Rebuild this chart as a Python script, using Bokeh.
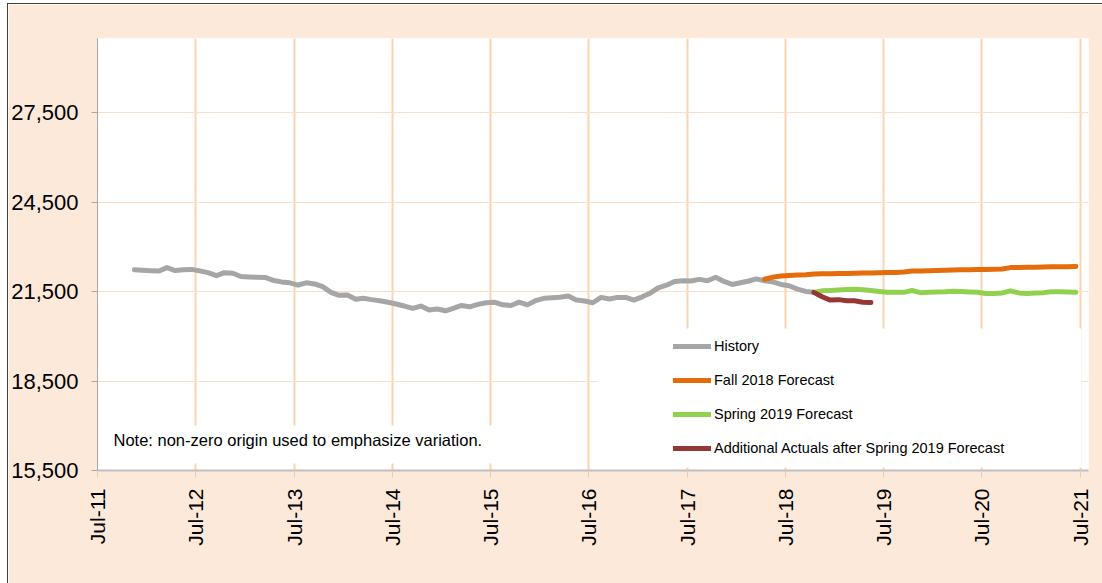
import math
import pandas as pd
from bokeh.plotting import figure
from bokeh.models import (FixedTicker, NumeralTickFormatter, DatetimeTickFormatter,
                          Legend, LegendItem, BoxAnnotation, Label, Range1d)
from bokeh.embed import file_html
from bokeh.resources import INLINE

# ---------------- data (monthly values) ----------------
history_start = "2011-11"
history = [22240, 22220, 22205, 22195, 22310, 22210, 22240, 22250, 22200, 22140,
           22040, 22140, 22120, 22010, 21995, 21985, 21980, 21880, 21830, 21800,
           21725, 21800, 21760, 21670, 21480, 21380, 21390, 21245, 21280, 21235,
           21200, 21145, 21090, 21020, 20940, 21020, 20885, 20920, 20860, 20950,
           21040, 20995, 21075, 21130, 21150, 21060, 21040, 21150, 21060, 21200,
           21280, 21300, 21315, 21355, 21220, 21190, 21130, 21310, 21255, 21310,
           21310, 21220, 21330, 21460, 21630, 21720, 21845, 21865, 21860, 21915,
           21870, 21985, 21845, 21745, 21800, 21860, 21930, 21870, 21835, 21745,
           21700, 21590, 21510, 21480]

fall2018_start = "2018-04"
fall2018 = [21920, 21990, 22030, 22045, 22060, 22070, 22095, 22100, 22105, 22110,
            22115, 22120, 22125, 22130, 22140, 22145, 22150, 22160, 22195, 22200,
            22205, 22210, 22220, 22230, 22235, 22240, 22245, 22250, 22255, 22265,
            22310, 22315, 22320, 22325, 22330, 22335, 22338, 22340, 22345]

spring2019_start = "2018-10"
spring2019 = [21480, 21530, 21545, 21560, 21575, 21580, 21570, 21545, 21510, 21480,
              21485, 21480, 21540, 21470, 21480, 21495, 21500, 21515, 21505, 21495,
              21480, 21440, 21445, 21460, 21530, 21460, 21440, 21455, 21470, 21500,
              21500, 21490, 21480]

actuals_start = "2018-10"
actuals = [21480, 21330, 21220, 21235, 21200, 21195, 21150, 21135]

series_names = ["History", "Fall 2018 Forecast", "Spring 2019 Forecast",
                "Additional Actuals after Spring 2019 Forecast"]
series_colors = ["#A6A6A6", "#E46C0A", "#92D050", "#953735"]

x_tick_labels = ["Jul-11", "Jul-12", "Jul-13", "Jul-14", "Jul-15", "Jul-16",
                 "Jul-17", "Jul-18", "Jul-19", "Jul-20", "Jul-21"]
y_ticks = [15500, 18500, 21500, 24500, 27500]
y_min, y_max = 15500, 30000
note_text = "Note: non-zero origin used to emphasize variation."


def month_dates(start, n):
    # points sit in the middle of each monthly slot
    return pd.date_range(start=start + "-01", periods=n, freq="MS") + pd.Timedelta(days=14)


tick_dates = [pd.to_datetime(t, format="%b-%y") for t in x_tick_labels]
x_start = tick_dates[0]
x_end = tick_dates[-1] + pd.DateOffset(months=1)
x0_ms = x_start.value / 1e6
x1_ms = x_end.value / 1e6

# ---------------- figure ----------------
BG = "#FDE9D9"
FONT = "Liberation Sans"

p = figure(width=1094, height=579, x_axis_type="datetime",
           output_backend="svg", toolbar_location=None,
           x_range=Range1d(x_start, x_end), y_range=Range1d(y_min, y_max),
           min_border_left=89, min_border_right=14, min_border_top=34,
           min_border_bottom=113)
p.background_fill_color = "white"
p.border_fill_color = BG
p.outline_line_color = None
p.styles = {"margin-left": "8px", "margin-top": "4px",
            "outline": "1px solid #404040"}

# axes
ticker_x = FixedTicker(ticks=[d.value / 1e6 for d in tick_dates])
p.xaxis.ticker = ticker_x
p.xgrid.ticker = ticker_x
fmt = "%b-%y"
p.xaxis.formatter = DatetimeTickFormatter(years=fmt, months=fmt, days=fmt, hours=fmt,
                                          minutes=fmt, seconds=fmt, milliseconds=fmt,
                                          microseconds=fmt, hourmin=fmt, minsec=fmt)
p.xaxis.major_label_orientation = math.pi / 2
p.xaxis.major_label_text_font = FONT
p.xaxis.major_label_text_font_size = "21px"
p.xaxis.major_label_text_color = "black"
p.xaxis.major_label_standoff = 11
p.xaxis.axis_line_color = "#BFBFBF"
p.xaxis.axis_line_width = 2
p.xaxis.major_tick_line_color = "#E6CDB8"
p.xaxis.major_tick_out = 7
p.xaxis.major_tick_in = 0
p.xaxis.minor_tick_line_color = None

ticker_y = FixedTicker(ticks=y_ticks)
p.yaxis.ticker = ticker_y
p.ygrid.ticker = ticker_y
p.yaxis.formatter = NumeralTickFormatter(format="0,0")
p.yaxis.major_label_text_font = FONT
p.yaxis.major_label_text_font_size = "22px"
p.yaxis.major_label_text_color = "black"
p.yaxis.major_label_standoff = 13
p.yaxis.axis_line_color = "#A6A6A6"
p.yaxis.major_tick_line_color = "#A6A6A6"
p.yaxis.major_tick_out = 6
p.yaxis.major_tick_in = 0
p.yaxis.minor_tick_line_color = None

p.xgrid.grid_line_color = "#FBD3AE"
p.xgrid.grid_line_width = 2
p.ygrid.grid_line_color = "#FCDCC2"
p.ygrid.grid_line_width = 1

# ---------------- layout helpers (page px -> data) ----------------
FL, FR, FT, FB = 97, 1088, 38, 470


def X(px):
    return x0_ms + (px - FL) / (FR - FL) * (x1_ms - x0_ms)


def Y(py):
    return y_min + (FB - py) / (FB - FT) * (y_max - y_min)


note_box = BoxAnnotation(left=X(103), right=X(500), top=Y(425), bottom=Y(463),
                         fill_color="white", fill_alpha=1.0, line_color=None,
                         level="underlay")
legend_box = BoxAnnotation(left=X(597), right=X(1081), top=Y(328), bottom=Y(467),
                           fill_color="white", fill_alpha=1.0, line_color=None,
                           level="underlay")
p.add_layout(note_box)
p.add_layout(legend_box)

# ---------------- lines ----------------
starts = [history_start, fall2018_start, spring2019_start, actuals_start]
values = [history, fall2018, spring2019, actuals]
items = []
for name, color, st, vals in zip(series_names, series_colors, starts, values):
    r = p.line(x=month_dates(st, len(vals)), y=vals, line_color=color, line_width=5,
               line_join="round", line_cap="round")
    items.append(LegendItem(label=name, renderers=[r]))

legend = Legend(items=items, location=(576, 12), orientation="vertical",
                glyph_width=38, glyph_height=20, label_height=20, spacing=14,
                label_standoff=3, padding=0, margin=0,
                background_fill_alpha=0, border_line_color=None,
                label_text_font=FONT, label_text_font_size="14.5px",
                label_text_color="black")
p.add_layout(legend)

note = Label(x=X(113), y=Y(439), text=note_text, text_font=FONT,
             text_font_size="16.5px", text_color="black", text_baseline="middle")
p.add_layout(note)

open("out.html", "w").write(file_html(p, INLINE))
